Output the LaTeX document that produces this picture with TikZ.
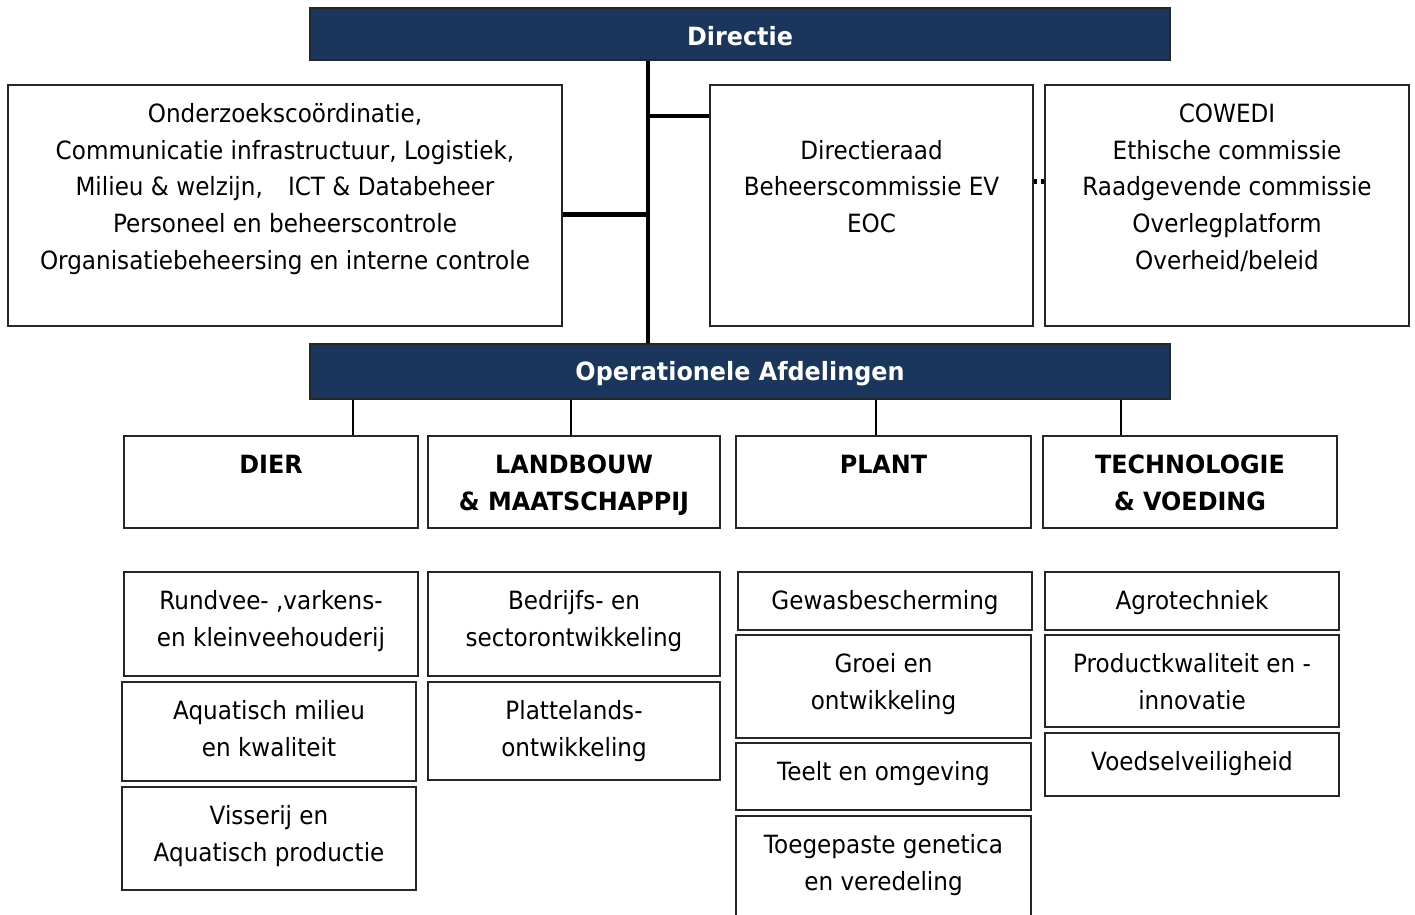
\documentclass[tikz,border=0pt]{standalone}
\usepackage{fontspec}
\setmainfont{DejaVu Sans}[FakeStretch=0.92, BoldFeatures={FakeStretch=0.95}]
\usepackage{xcolor}
\usepackage{tikz}
\usetikzlibrary{positioning, fit, calc}
\definecolor{navy}{RGB}{27,54,93}
\newcommand{\orgsize}{\fontsize{14.3}{21}\selectfont}

\begin{document}
\begin{tikzpicture}[
    x=0.02cm, y=-0.02cm,
    font=\orgsize,
    box/.style={draw=black!85, line width=1.1pt, inner sep=0pt, fill=white},
    head/.style={box, fill=navy, line width=1.3pt, label={[text=white, inner sep=0pt, yshift=-1.3pt, font=\orgsize\bfseries]center:#1}},
    txt/.style={label={[anchor=north, yshift=-6.8pt, inner sep=0pt, align=center, font=\orgsize]north:{\strut #1}}},
    dept/.style={box, label={[anchor=north, yshift=-6.8pt, inner sep=0pt, align=center, font=\orgsize\bfseries]north:{\strut #1}}},
    trunk/.style={line width=2.3pt},
    branch/.style={line width=1.1pt},
]
    \useasboundingbox (0,0) rectangle (1415,914);
    \clip (0,0) rectangle (1415,914);

    % top level
    \node[head={Directie}, fit={(310,8)(1170,60)}] (directie) {};
    \node[box, fit={(8,85)(562,326)}, txt={Onderzoekscoördinatie,\\Communicatie infrastructuur, Logistiek,\\Milieu \& welzijn,\quad ICT \& Databeheer\\Personeel en beheerscontrole\\Organisatiebeheersing en interne controle}] (staf) {};
    \node[box, fit={(710,85)(1033,326)}, txt={\\Directieraad\\Beheerscommissie EV\\EOC}] (raad) {};
    \node[box, fit={(1045,85)(1409,326)}, txt={COWEDI\\Ethische commissie\\Raadgevende commissie\\Overlegplatform\\Overheid/beleid}] (cowedi) {};
    \node[head={Operationele Afdelingen}, fit={(310,344)(1170,399)}] (ops) {};

    % afdelingen
    \node[dept={DIER}, fit={(124,436)(418,528)}] (dier) {};
    \node[dept={LANDBOUW\\\& MAATSCHAPPIJ}, fit={(428,436)(720,528)}] (landbouw) {};
    \node[dept={PLANT}, fit={(736,436)(1031,528)}] (plant) {};
    \node[dept={TECHNOLOGIE\\\& VOEDING}, fit={(1043,436)(1337,528)}] (tech) {};

    % onderzoeksgroepen
    \node[box, fit={(124,572)(418,676)}, txt={Rundvee- ,varkens-\\en kleinveehouderij}] (rundvee) {};
    \node[box, fit={(122,682)(416,781)}, txt={Aquatisch milieu\\en kwaliteit}] (aqua) {};
    \node[box, fit={(122,787)(416,890)}, txt={Visserij en\\Aquatisch productie}] (visserij) {};
    \node[box, fit={(428,572)(720,676)}, txt={Bedrijfs- en\\sectorontwikkeling}] (bedrijf) {};
    \node[box, fit={(428,682)(720,780)}, txt={Plattelands-\\ontwikkeling}] (platteland) {};
    \node[box, fit={(738,572)(1032,630)}, txt={Gewasbescherming}] (gewas) {};
    \node[box, fit={(736,635)(1031,738)}, txt={Groei en\\ontwikkeling}] (groei) {};
    \node[box, fit={(736,743)(1031,810)}, txt={Teelt en omgeving}] (teelt) {};
    \node[box, fit={(736,816)(1031,940)}, txt={Toegepaste genetica\\en veredeling}] (genetica) {};
    \node[box, fit={(1045,572)(1339,630)}, txt={Agrotechniek}] (agro) {};
    \node[box, fit={(1045,635)(1339,727)}, txt={Productkwaliteit en -\\innovatie}] (kwaliteit) {};
    \node[box, fit={(1045,733)(1339,796)}, txt={Voedselveiligheid}] (voedsel) {};

    % verbindingen
    \coordinate (stem) at (648,0);
    \draw[trunk] (directie.south -| stem) -- (ops.north -| stem);
    \coordinate (raadin) at ($(raad.north west)+(0,32)$);
    \draw[trunk] (raadin -| stem) -- (raadin);
    \coordinate (stafin) at ($(staf.east)+(0,9)$);
    \draw[trunk] (stafin) -- (stafin -| stem);
    \coordinate (raadout) at ($(raad.east)+(0,-24)$);
    \draw[trunk, dash pattern=on 2pt off 2pt] (raadout) -- (raadout -| cowedi.west);
    \foreach \d/\dx in {dier/82, landbouw/-3, plant/-7.5, tech/-69} {
        \coordinate (p) at ($(\d.north)+(\dx,0)$);
        \draw[branch] (p) -- (p |- ops.south);
    }
\end{tikzpicture}
\end{document}
